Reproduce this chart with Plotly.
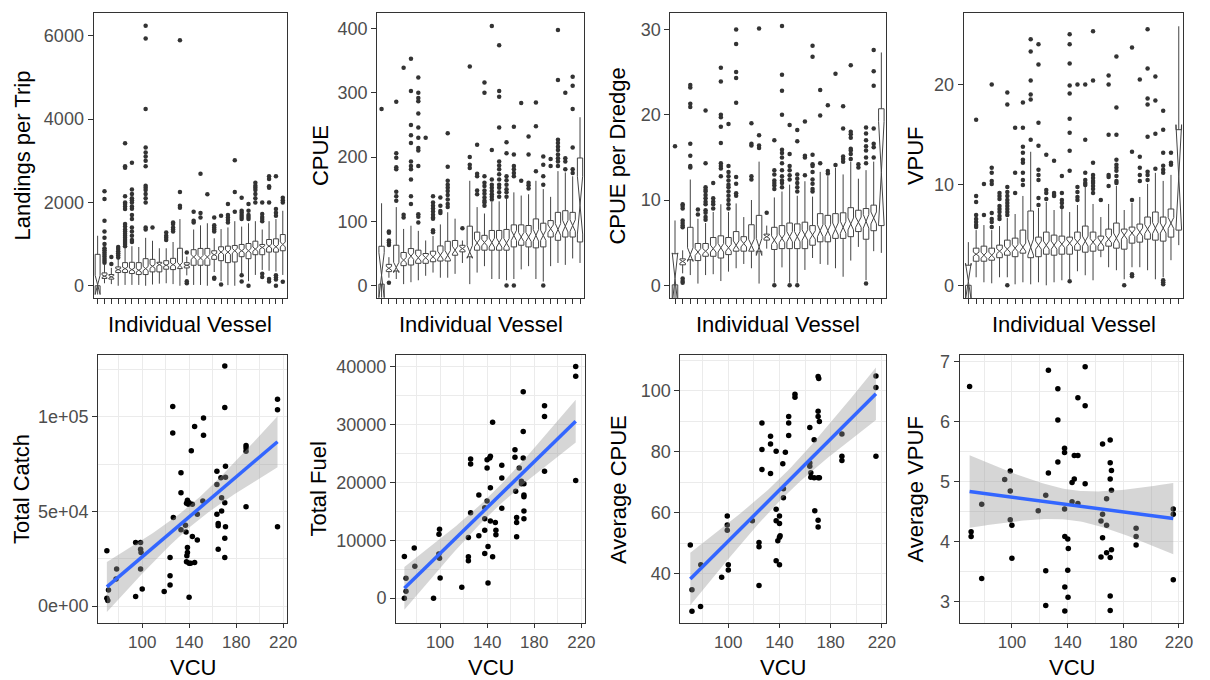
import numpy as np
import plotly.graph_objects as go
from plotly.subplots import make_subplots

W, H = 1210, 680
FONT = "Liberation Sans, Arial, Helvetica, sans-serif"
TICK_GREY = "#4d4d4d"
FRAME = "#333333"
GRID = "#ebebeb"

vessels = list(range(1, 29))

# ---------------- Landings per Trip (vessels ranked by median) ----------------
land_q1 = [0, 175, 159, 317, 317, 293, 269, 269, 333, 333, 397, 388, 412, 428, 492, 492,
           492, 634, 602, 555, 571, 698, 650, 745, 745, 808, 808, 840]
land_med = [20, 230, 215, 388, 412, 388, 372, 412, 467, 507, 492, 507, 492, 492, 690, 666,
            690, 745, 808, 808, 840, 840, 840, 880, 919, 951, 935, 991]
land_q3 = [754, 309, 270, 452, 555, 563, 555, 650, 634, 563, 602, 658, 900, 555, 865, 896,
           896, 840, 935, 951, 967, 991, 1014, 1070, 991, 1110, 1126, 1229]
land_lo = [0, 60, 40, 0, 20, 20, 20, 0, 30, 50, 60, 40, 0, 250, 20, 20, 0, 330, 110, 15,
           0, 260, 110, 260, 380, 360, 340, 260]
land_hi = [1200, 500, 430, 650, 900, 950, 930, 1150, 1080, 900, 900, 1050, 1600, 700, 1350,
           1450, 1500, 1140, 1360, 1400, 1550, 1420, 1500, 1550, 1350, 1550, 1600, 1800]
land_notch = [230, 30, 30, 25, 35, 35, 40, 50, 45, 35, 30, 40, 70, 20, 55, 60, 60, 35, 50,
              55, 55, 45, 55, 50, 40, 45, 50, 60]
land_out = [
    [],
    [2270, 2080, 1560, 1300, 1150, 1000, 900, 850, 800, 750, 700, 650, 600, 550],
    [690, 520],
    [930, 880, 830, 780, 730, 680],
    [3420, 2870, 2830, 2150, 2000, 1960, 1900, 1840, 1480, 1420, 1350, 1300, 1250, 1200,
     1150, 1100, 1050, 1000, 950],
    [2950, 2310, 2200, 2100, 2050, 2000, 1900, 1850, 1700, 1600, 1400, 1300, 1200, 1100, 1050],
    [],
    [6240, 5935, 4240, 3320, 3200, 3100, 3000, 2870, 2400, 2350, 2300, 2200, 2100, 2000,
     1400, 1350],
    [1400],
    [],
    [1280, 1200, 1150, 1100],
    [1520, 1480, 1400, 1350, 1300],
    [5895, 2250, 1920, 1870],
    [800, 60, 110],
    [1775, 1560, 1520],
    [2690, 1745, 1640],
    [2195],
    [1640, 1450, 1400, 1350, 1300, 190, 170],
    [1680, 30],
    [1960, 1700, 1640, 1580, 1520],
    [3010, 2250, 1775],
    [2115, 1800, 1750, 1700, 1650, 1600, 250, 100],
    [1960, 1800, 1700, 1650, 1600, 0],
    [2470, 2400, 2350, 2300, 2200, 2100, 2000],
    [2000, 1720, 1650, 1600, 1550, 290, 210],
    [2630, 2560, 2390, 2350, 2000, 160, 100],
    [2630, 1840, 1750, 1680, 250, 200, 150, 0],
    [2115, 2050, 2000, 95],
]

# ---------------- CPUE ----------------
cpue_q1 = [2, 21.5, 22.6, 30.8, 31.8, 34.4, 34.4, 36.9, 38, 38, 47, 52.3, 44.6, 54.9, 54.9,
           54.9, 54.9, 54.9, 60, 62.6, 60, 58.5, 60, 75.4, 70.3, 75.4, 75.4, 67.7]
cpue_med = [16, 26.7, 28, 39.5, 45.6, 43.1, 43.1, 44.6, 47.2, 47.2, 55, 57.4, 52.3, 66.2,
            66.7, 66.7, 66.7, 66, 77.9, 75.4, 75.4, 78, 78, 88.2, 87.2, 92.3, 93.3, 125]
cpue_q3 = [61, 32.8, 62.6, 51.3, 57.4, 54.9, 49.7, 53.3, 61.5, 68.7, 70, 62.5, 92.3, 83, 78,
           85.6, 85.6, 87.2, 94.3, 94.3, 93.3, 103.6, 96.9, 101, 113.8, 116.4, 113.8, 198.5]
cpue_lo = [0, 12, 10, 2, 5, 8, 15, 20, 12, 12, 18, 35, 2, 20, 30, 10, 10, 8, 10, 25, 30, 10,
           6, 30, 35, 32, 42, 35]
cpue_hi = [128, 44, 122, 88, 93, 85, 70, 77, 95, 114, 104, 70, 163, 122, 112, 130, 131, 135,
           145, 140, 142, 163, 150, 138, 178, 176, 170, 262]
cpue_notch = [35, 3, 8, 4, 5, 5, 4, 4, 6, 7, 6, 3, 10, 6, 5, 7, 7, 7, 8, 7, 7, 9, 8, 6, 9, 9,
              9, 45]
cpue_out = [
    [275],
    [84, 82, 70, 67, 63, 4],
    [286, 206, 199, 184, 181, 146, 139, 132],
    [339, 110, 106],
    [353, 303, 250, 234, 222, 193, 186, 181, 165, 139, 127],
    [324, 300, 292, 287, 268, 246, 230, 214, 210, 186, 111, 107, 98],
    [230],
    [139, 129, 124, 120, 115, 110, 106, 104, 86, 83],
    [137, 124, 116, 113],
    [237, 185, 163, 157, 152, 147, 141, 134, 127, 122],
    [],
    [89],
    [341, 200, 188, 183],
    [219, 174, 170, 148, 142],
    [316, 300, 170, 160, 155, 148, 143, 137, 132, 129, 124],
    [404, 211, 165, 157, 152, 147, 142, 138, 134],
    [374, 303, 294, 246, 193, 187, 181, 173, 165, 157, 152, 145, 138],
    [223, 206, 170, 164, 157, 150, 145, 138, 0],
    [247, 204, 186, 181, 175, 170, 0],
    [284, 163],
    [232, 204, 160, 156, 151],
    [285, 248, 178],
    [201, 188, 170, 157, 0],
    [197, 186],
    [398, 320, 227, 222, 216, 211, 204, 198, 193, 186],
    [300, 198, 193, 181],
    [325, 311, 275, 215, 181, 175],
    [],
]

# ---------------- CPUE per Dredge ----------------
dredge_q1 = [0.05, 2.4, 3.0, 2.9, 3.4, 3.4, 3.2, 3.6, 4.0, 4.0, 4.0, 4.0, 5.3, 4.2, 4.3, 4.3,
             4.3, 4.3, 4.7, 5.1, 5.1, 5.5, 5.5, 5.7, 6.3, 5.4, 6.4, 7.0]
dredge_med = [0.8, 2.8, 3.6, 3.9, 4.0, 4.3, 4.4, 4.4, 4.7, 4.9, 4.7, 4.5, 5.7, 5.3, 5.5, 5.7,
              5.7, 5.9, 5.9, 6.4, 6.4, 6.6, 6.8, 7.2, 7.4, 7.5, 7.9, 13.2]
dredge_q3 = [3.7, 3.1, 6.8, 4.9, 4.9, 5.6, 5.8, 5.6, 6.3, 5.7, 7.1, 8.2, 6.0, 6.8, 7.0, 7.3,
             7.2, 7.4, 7.0, 8.4, 8.2, 8.4, 8.5, 9.1, 8.8, 9.0, 9.4, 20.7]
dredge_lo = [0, 1.4, 1.2, 0.2, 1.2, 1.3, 0.5, 1.6, 2.0, 2.5, 2.0, 0.2, 4.3, 0.3, 2.1, 0.3,
             0.3, 1.8, 3.2, 2.5, 2.4, 2.0, 1.0, 2.9, 4.5, 0.6, 4.0, 3.8]
dredge_hi = [7.6, 4.1, 12.4, 7.8, 7.3, 8.6, 9.5, 8.6, 9.6, 8.0, 10.0, 14.5, 7.0, 10.3, 11.0,
             11.8, 10.5, 12.2, 10.4, 13.3, 12.8, 13.8, 13.0, 14.5, 12.5, 13.5, 14.5, 27.3]
dredge_notch = [3.0, 0.2, 0.8, 0.4, 0.3, 0.4, 0.5, 0.4, 0.5, 0.4, 0.7, 1.0, 0.2, 0.5, 0.5,
                0.6, 0.6, 0.6, 0.5, 0.7, 0.7, 0.7, 0.7, 0.7, 0.6, 0.8, 0.7, 6.0]
dredge_out = [
    [16.3],
    [9.5, 9.3, 9.0, 7.6, 7.3, 7.0, 6.8, 0.8, 0.5, 0.3],
    [23.5, 23.2, 21.3, 20.9, 16.6, 15.2, 14.0, 13.8],
    [8.9, 8.3],
    [20.5, 14.3, 11.5, 11.2, 11.0, 10.6, 10.2, 9.8, 9.5, 8.8, 8.5, 8.0, 7.7],
    [12.0, 10.2, 9.8, 9.5, 9.0],
    [25.5, 23.9, 20.0, 19.7, 18.6, 16.7, 14.3, 14.0, 13.7, 12.8],
    [18.9, 14.0, 13.3, 12.8, 12.3, 11.8, 11.5, 11.0, 10.5, 10.0, 9.5, 9.0],
    [30.0, 28.3, 25.0, 24.3, 21.4, 12.7, 11.9, 10.8, 10.5],
    [],
    [19.0, 16.6, 16.4, 12.8, 12.4],
    [30.1, 17.6, 16.4, 16.1],
    [8.5],
    [17.0, 13.5, 13.0, 12.3, 12.0, 11.7, 11.3, 0.0],
    [30.4, 24.7, 22.8, 20.0, 15.9, 15.5, 15.0, 14.3, 13.5, 12.8, 12.3, 12.0, 11.5],
    [18.8, 15.4, 14.0, 13.5, 12.9, 12.4, 0.0],
    [18.2, 16.9, 13.0, 12.5, 12.0, 11.5, 11.0, 0.0],
    [19.2, 15.2, 15.0, 12.9],
    [28.1, 26.8, 15.3, 14.2, 14.0, 13.3, 12.4, 11.9, 11.3, 11.0],
    [22.9, 19.9, 14.3],
    [21.1, 13.4, 13.1],
    [24.8, 14.1],
    [21.0, 18.4, 15.1, 14.8, 14.5],
    [25.8, 18.0, 17.7, 17.3, 16.0, 15.8, 15.4, 14.8],
    [14.2, 13.8],
    [18.5, 17.8, 17.0, 16.3, 15.8, 15.0, 14.3, 0.2],
    [27.6, 25.1, 23.4, 18.4, 16.6, 16.2, 15.0],
    [],
]

# ---------------- VPUF ----------------
vpuf_q1 = [0.0, 2.4, 2.4, 2.5, 2.75, 3.0, 2.85, 3.2, 2.75, 2.85, 3.1, 3.0, 3.1, 3.1, 3.5, 3.3,
           3.4, 3.5, 3.9, 3.7, 3.6, 4.2, 4.3, 4.6, 4.5, 4.4, 4.8, 5.5]
vpuf_med = [0.4, 3.1, 3.0, 3.0, 3.4, 3.6, 3.7, 3.8, 3.8, 4.0, 4.0, 4.0, 4.1, 4.2, 4.3, 4.4,
            4.3, 4.3, 4.6, 4.7, 5.0, 5.2, 5.3, 5.6, 5.7, 5.7, 6.2, 10.8]
vpuf_q3 = [2.0, 3.7, 3.9, 3.7, 4.0, 4.5, 4.7, 5.5, 7.4, 4.8, 5.3, 5.0, 4.9, 4.8, 5.3, 5.9,
           5.3, 4.9, 5.6, 6.2, 5.6, 5.8, 6.1, 6.8, 7.3, 6.8, 7.6, 15.5]
vpuf_lo = [0.0, 0.8, 0.3, 0.2, 0.8, 0.8, 0.1, 0.3, 0.1, 0.3, 0.0, 0.3, 0.5, 0.6, 1.4, 1.0,
           0.5, 2.8, 1.8, 1.5, 0.6, 1.8, 1.8, 1.5, 0.6, 0.8, 2.5, 4.0]
vpuf_hi = [4.3, 5.5, 6.0, 5.5, 5.9, 6.7, 7.1, 8.9, 13.3, 7.7, 8.3, 7.5, 7.6, 7.3, 8.0, 9.8,
           8.1, 6.8, 8.1, 9.9, 7.5, 8.2, 8.8, 10.1, 11.2, 10.4, 11.0, 25.8]
vpuf_notch = [1.8, 0.2, 0.3, 0.3, 0.25, 0.3, 0.35, 0.4, 0.8, 0.4, 0.4, 0.4, 0.35, 0.35, 0.35,
              0.5, 0.35, 0.4, 0.35, 0.5, 0.4, 0.35, 0.4, 0.45, 0.55, 0.5, 0.55, 5.2]
vpuf_out = [
    [],
    [16.5, 8.9, 8.3, 7.0, 6.6, 6.3, 6.0, 5.8],
    [10.1, 7.0],
    [20.0, 11.7, 11.2, 10.4, 10.1, 7.2, 6.6, 6.3, 5.8],
    [9.2, 8.9, 8.6, 7.9, 7.6, 7.3, 6.9, 6.6],
    [19.2, 18.0, 9.8, 9.3, 8.9, 8.5, 8.2, 7.9, 7.6, 7.3, 7.0, 0.0],
    [15.7, 11.2, 9.2],
    [18.2, 15.7, 13.8, 13.2, 12.5, 12.2, 11.2, 10.5, 10.0],
    [24.5, 23.3, 20.4, 19.0, 18.5, 14.5],
    [24.0, 22.0, 16.2, 13.9, 11.5, 11.0, 10.5, 8.7, 8.0],
    [13.0, 9.5, 9.2, 8.6],
    [12.4, 9.2, 9.0, 8.9],
    [10.9, 9.2, 8.5, 8.2, 7.8],
    [25.0, 24.0, 22.1, 19.9, 19.1, 16.6, 15.2, 13.4, 11.4, 0.4],
    [20.0, 9.8, 9.3, 8.8, 8.5],
    [20.0, 14.5, 11.2, 10.5, 10.2, 10.0],
    [25.3, 20.4, 12.2, 11.0, 10.7, 10.4, 10.2, 9.9, 9.6, 9.2],
    [8.5],
    [20.9, 20.0, 15.0, 11.0, 10.8, 9.9],
    [22.8, 17.7, 15.0, 12.5, 12.0, 11.7, 11.4, 10.9, 10.4, 10.2],
    [0.0],
    [23.7, 13.3, 8.5, 1.1, 0.9],
    [20.5, 12.8, 11.7, 11.0, 10.4],
    [25.5, 21.6, 18.6, 18.0, 14.8, 11.3, 11.0, 10.5],
    [20.8, 18.4, 15.1, 11.6],
    [17.4, 15.5, 13.2, 11.9, 11.5, 11.2, 0.5, 0.3, 0.1],
    [13.2, 12.2, 12.0],
    [],
]

# ---------------- Vessel totals against VCU ----------------
catch_vcu = [69.9, 69.9, 70.7, 71.3, 78.2, 77.7, 94.4, 94.4, 98.6, 98.6, 99.0, 98.6, 100.0,
             118.7, 123.7, 123.7, 123.7, 126.0, 126.0, 126.5, 133.0, 133.0, 133.0, 136.8,
             137.3, 137.7, 138.5, 139.3, 139.9, 138.5, 138.5, 138.0, 137.7, 139.9, 139.9,
             141.2, 141.8, 142.7, 142.7, 144.6, 144.6, 146.9, 146.9, 152.2, 152.2, 151.6,
             163.6, 163.6, 163.6, 164.7, 164.7, 164.7, 167.0, 167.6, 167.6, 170.3, 170.3,
             170.9, 170.9, 170.3, 170.9, 170.3, 170.3, 188.4, 188.4, 188.4, 188.4, 215.2,
             215.2, 215.2]
catch_total = [29250, 4200, 3000, 8600, 19600, 14400, 33600, 5100, 33600, 30100, 28400,
               19600, 9100, 7700, 25700, 16100, 11200, 105400, 91400, 46800, 70400, 59900,
               40300, 42700, 39200, 54300, 55900, 53800, 54600, 31000, 28400, 26600, 23500,
               22600, 4700, 22600, 82100, 53800, 36800, 94900, 23100, 48500, 35000, 99300,
               90200, 55500, 71300, 64300, 48500, 43600, 42400, 30100, 67800, 57300, 50300,
               126800, 104900, 73900, 68100, 54600, 42000, 35900, 25700, 84800, 83500, 81800,
               52500, 109300, 103700, 42000]

fuel_vcu = [69.6, 71.0, 71.0, 69.6, 78.0, 78.5, 94.4, 99.5, 99.0, 98.9, 99.5, 100.0, 118.4,
            124.0, 124.0, 124.0, 125.9, 125.9, 125.9, 132.9, 132.9, 137.9, 137.9, 137.9,
            137.9, 139.9, 139.9, 139.9, 140.7, 140.7, 142.1, 142.7, 142.7, 142.7, 144.6,
            144.6, 146.9, 147.4, 147.4, 152.4, 152.4, 152.4, 163.6, 163.6, 164.2, 165.0,
            165.0, 165.0, 167.2, 169.1, 169.1, 170.6, 170.6, 170.6, 171.2, 171.2, 171.2,
            171.2, 171.2, 188.7, 188.7, 188.7, 215.2, 215.2, 215.2]
fuel_total = [7200, 3430, 1200, 0, 8640, 5490, 0, 11900, 11040, 7610, 6900, 3490, 1890,
              10470, 7150, 6470, 24030, 23180, 14760, 17800, 10760, 15620, 13730, 11730,
              7730, 23920, 22490, 16770, 8930, 2630, 24210, 24490, 19060, 13330, 30390, 7150,
              13050, 11730, 10930, 22950, 20770, 15510, 25640, 24320, 18480, 13910, 13050,
              10590, 22490, 20200, 19740, 35650, 28780, 24210, 19740, 17800, 17510, 15050,
              13730, 33250, 31360, 21920, 40000, 38340, 20310]

avgcpue_vcu = [70.3, 71.6, 71.6, 78.3, 78.5, 94.8, 99.2, 99.2, 99.2, 100.0, 100.0, 118.8,
               124.0, 124.0, 124.0, 126.3, 126.3, 126.3, 133.0, 133.0, 133.0, 137.4, 137.4,
               137.4, 137.4, 138.7, 140.0, 140.5, 140.0, 140.0, 140.0, 142.6, 143.1, 143.1,
               144.6, 147.2, 147.2, 147.2, 152.1, 152.1, 163.7, 163.7, 163.7, 164.5, 164.5,
               167.1, 167.1, 167.6, 170.2, 170.7, 170.2, 170.2, 171.2, 170.2, 171.2, 170.2,
               170.2, 188.8, 188.8, 188.8, 215.4, 215.4, 215.4]
avgcpue = [49.5, 34.8, 27.8, 29.3, 43.0, 38.9, 59.0, 56.0, 54.3, 43.0, 41.3, 57.4, 36.2,
           50.3, 48.9, 89.5, 80.8, 74.2, 85.1, 82.6, 72.9, 80.2, 61.2, 57.4, 44.3, 50.9, 52.0,
           52.5, 59.0, 56.5, 43.0, 76.1, 67.9, 65.0, 79.9, 91.6, 89.5, 85.4, 98.9, 97.9, 88.0,
           76.4, 75.3, 73.2, 71.7, 84.0, 71.5, 60.7, 104.7, 104.1, 93.3, 91.6, 90.0, 71.5,
           71.5, 57.6, 55.4, 85.9, 78.6, 77.2, 104.9, 101.1, 78.6]

avgvpuf_vcu = [69.6, 70.7, 70.7, 78.3, 78.3, 94.8, 98.8, 98.8, 98.8, 100.0, 100.0, 118.9,
               124.3, 124.3, 124.3, 126.2, 126.2, 133.0, 133.0, 133.0, 137.8, 137.8, 137.8,
               138.0, 138.0, 138.0, 140.1, 140.5, 140.1, 140.3, 143.2, 143.2, 144.8, 144.8,
               147.4, 147.4, 147.4, 152.6, 152.6, 152.6, 164.0, 164.0, 165.1, 165.1, 165.1,
               168.0, 168.0, 168.0, 170.6, 170.6, 170.6, 170.6, 170.6, 170.6, 171.5, 171.5,
               171.5, 189.2, 189.2, 189.2, 215.9, 215.9, 215.9]
avgvpuf = [6.58, 4.16, 4.08, 3.38, 4.62, 5.03, 5.17, 4.84, 4.36, 4.27, 3.72, 4.51, 4.77,
           3.51, 2.93, 6.85, 5.14, 6.54, 6.02, 5.32, 5.55, 5.48, 4.54, 4.08, 3.24, 2.84, 4.04,
           3.88, 3.52, 3.07, 4.98, 4.66, 5.04, 5.43, 5.43, 4.63, 6.39, 6.91, 6.26, 4.96, 3.74,
           4.34, 5.62, 4.45, 4.06, 4.71, 4.27, 3.81, 5.69, 5.31, 5.04, 3.73, 3.09, 2.85, 5.18,
           4.85, 3.86, 4.22, 4.08, 3.94, 4.54, 4.45, 3.36]


def px_x(a, b):
    return [a / W, b / W]


def px_y(top, bottom):
    return [1 - bottom / H, 1 - top / H]


fig = make_subplots(rows=2, cols=4)

top_x = [(94.3, 289.3), (380.3, 589.3), (676.0, 893.3), (971.7, 1193.3)]
bot_x = [(99.0, 289.3), (399.3, 590.0), (686.0, 893.3), (967.7, 1193.3)]
top_y = (9.3, 296.0)
bot_y = (353.3, 622.7)

box_panels = [
    ("Landings per Trip", land_q1, land_med, land_q3, land_lo, land_hi, land_notch, land_out,
     [-300, 6540], [0, 2000, 4000, 6000]),
    ("CPUE", cpue_q1, cpue_med, cpue_q3, cpue_lo, cpue_hi, cpue_notch, cpue_out,
     [-20, 424], [0, 100, 200, 300, 400]),
    ("CPUE per Dredge", dredge_q1, dredge_med, dredge_q3, dredge_lo, dredge_hi, dredge_notch,
     dredge_out, [-1.52, 31.9], [0, 10, 20, 30]),
    ("VPUF", vpuf_q1, vpuf_med, vpuf_q3, vpuf_lo, vpuf_hi, vpuf_notch, vpuf_out,
     [-1.29, 27.1], [0, 10, 20]),
]

annotations = []


def axis_title(text, xc, yc, angle=0):
    annotations.append(dict(
        text=text, xref="paper", yref="paper", x=xc / W, y=1 - yc / H,
        xanchor="center", yanchor="middle", showarrow=False, textangle=angle,
        font=dict(family=FONT, size=22, color="black")))


ytitle_x = [23, 323, 623, 923]

for i, (title, q1, med, q3, lo, hi, notch, outs, yr, yt) in enumerate(box_panels):
    col = i + 1
    # outlying trips first, boxes drawn over them
    ox, oy = [], []
    for v, pts in zip(vessels, outs):
        ox.extend([v] * len(pts))
        oy.extend(pts)
    fig.add_trace(go.Scatter(x=ox, y=oy, mode="markers",
                             marker=dict(size=4.5, color="#333333"),
                             showlegend=False, hoverinfo="skip"), row=1, col=col)
    fig.add_trace(go.Box(x=vessels, q1=q1, median=med, q3=q3, lowerfence=lo, upperfence=hi,
                         notched=True, notchspan=notch, notchwidth=0.5, width=0.72,
                         whiskerwidth=0, boxpoints=False, fillcolor="white",
                         line=dict(color="#444444", width=1), showlegend=False),
                  row=1, col=col)
    fig.update_xaxes(row=1, col=col, domain=px_x(*top_x[i]), range=[0.4, 28.6],
                     tickmode="array", tickvals=vessels, showticklabels=False,
                     ticks="outside", ticklen=5, tickcolor=FRAME, tickwidth=1,
                     showgrid=False, zeroline=False, showline=True, mirror=True,
                     linecolor=FRAME, linewidth=1)
    fig.update_yaxes(row=1, col=col, domain=px_y(*top_y), range=yr, tickmode="array",
                     tickvals=yt, ticks="outside", ticklen=5, tickcolor=FRAME, tickwidth=1,
                     showgrid=False, zeroline=False, showline=True, mirror=True,
                     linecolor=FRAME, linewidth=1,
                     tickfont=dict(family=FONT, size=18, color=TICK_GREY))
    axis_title(title, ytitle_x[i], (top_y[0] + top_y[1]) / 2, -90)
    axis_title("Individual Vessel", sum(top_x[i]) / 2, 322)


def lm_band(x, y, n=80, t_crit=2.0):
    """Least-squares line with a 95% confidence band for the mean response."""
    x = np.asarray(x, float)
    y = np.asarray(y, float)
    slope, icept = np.polyfit(x, y, 1)
    xs = np.linspace(x.min(), x.max(), n)
    fit = icept + slope * xs
    resid = y - (icept + slope * x)
    s = np.sqrt(np.sum(resid ** 2) / (len(x) - 2))
    sxx = np.sum((x - x.mean()) ** 2)
    se = s * np.sqrt(1.0 / len(x) + (xs - x.mean()) ** 2 / sxx)
    return xs, fit, fit - t_crit * se, fit + t_crit * se


scatter_panels = [
    ("Total Catch", catch_vcu, catch_total, [-8900, 132500], [0, 50000, 100000],
     ["0e+00", "5e+04", "1e+05"], [25000, 75000, 125000]),
    ("Total Fuel", fuel_vcu, fuel_total, [-4300, 41960], [0, 10000, 20000, 30000, 40000],
     ["0", "10000", "20000", "30000", "40000"], [-5000, 5000, 15000, 25000, 35000]),
    ("Average CPUE", avgcpue_vcu, avgcpue, [23.9, 111.7], [40, 60, 80, 100],
     ["40", "60", "80", "100"], [30, 50, 70, 90, 110]),
    ("Average VPUF", avgvpuf_vcu, avgvpuf, [2.64, 7.1], [3, 4, 5, 6, 7],
     ["3", "4", "5", "6", "7"], [2.5, 3.5, 4.5, 5.5, 6.5]),
]

for i, (title, xv, yv, yr, yt, ytt, yminor) in enumerate(scatter_panels):
    col = i + 1
    fig.add_trace(go.Scatter(x=xv, y=yv, mode="markers",
                             marker=dict(size=5.5, color="black"),
                             showlegend=False, hoverinfo="skip"), row=2, col=col)
    xs, fit, lower, upper = lm_band(xv, yv)
    fig.add_trace(go.Scatter(x=np.concatenate([xs, xs[::-1]]),
                             y=np.concatenate([upper, lower[::-1]]),
                             fill="toself", fillcolor="rgba(153,153,153,0.4)",
                             line=dict(width=0), mode="lines", showlegend=False,
                             hoverinfo="skip"), row=2, col=col)
    fig.add_trace(go.Scatter(x=xs, y=fit, mode="lines",
                             line=dict(color="#3366FF", width=3.5),
                             showlegend=False, hoverinfo="skip"), row=2, col=col)
    fig.update_xaxes(row=2, col=col, domain=px_x(*bot_x[i]), range=[62.5, 223.2],
                     tickmode="array", tickvals=[100, 140, 180, 220],
                     ticks="outside", ticklen=4, tickcolor=FRAME, tickwidth=1,
                     showgrid=True, gridcolor=GRID, gridwidth=1.3,
                     minor=dict(tickmode="array", tickvals=[80, 120, 160, 200],
                                showgrid=True, gridcolor=GRID, gridwidth=0.7),
                     zeroline=False, showline=True, mirror=True, linecolor=FRAME,
                     linewidth=1, tickfont=dict(family=FONT, size=17, color=TICK_GREY))
    fig.update_yaxes(row=2, col=col, domain=px_y(*bot_y), range=yr, tickmode="array",
                     tickvals=yt, ticktext=ytt, ticks="outside", ticklen=5,
                     tickcolor=FRAME, tickwidth=1, showgrid=True, gridcolor=GRID,
                     gridwidth=1.3,
                     minor=dict(tickmode="array", tickvals=yminor, showgrid=True,
                                gridcolor=GRID, gridwidth=0.7),
                     zeroline=False, showline=True, mirror=True, linecolor=FRAME,
                     linewidth=1, tickfont=dict(family=FONT, size=18, color=TICK_GREY))
    axis_title(title, [21, 321, 623, 923][i], (bot_y[0] + bot_y[1]) / 2, -90)
    axis_title("VCU", sum(bot_x[i]) / 2, 667)

fig.update_layout(width=W, height=H, margin=dict(l=0, r=0, t=0, b=0),
                  paper_bgcolor="white", plot_bgcolor="white",
                  font=dict(family=FONT), annotations=annotations, showlegend=False)

fig.write_html("out.html")
